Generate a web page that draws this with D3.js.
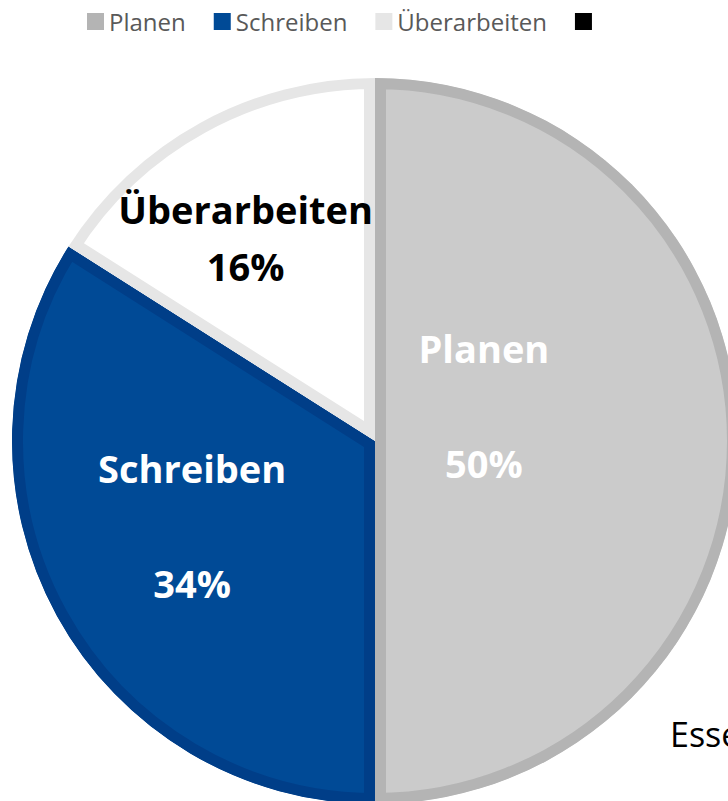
<!DOCTYPE html>
<html>
<head>
<meta charset="utf-8">
<script src="https://cdn.jsdelivr.net/npm/d3@7"></script>
<style>
  body { margin: 0; background: #fff; overflow: hidden; }
  svg { display: block; }
</style>
</head>
<body>
<div id="chart"></div>
<script>
// data
var categories = ["Planen", "Schreiben", "Überarbeiten"];
var values = [50, 34, 16];
var percentLabels = ["50%", "34%", "16%"];
var legendLabels = ["Planen", "Schreiben", "Überarbeiten", ""];
var extraText = "Essen";

var fills = ["#cbcbcb", "#004a96", "#ffffff"];
var borders = ["#b4b4b4", "#003e88", "#e6e6e6"];
var legendColors = ["#b4b4b4", "#004a96", "#e6e6e6", "#000000"];
var labelColors = ["#ffffff", "#ffffff", "#000000"];

var width = 728, height = 801;
var cx = 375, cy = 441, radius = 363;

var svg = d3.select("#chart")
  .append("svg")
  .attr("width", width)
  .attr("height", height);

var pie = d3.pie().sort(null).value(d => d);
var arc = d3.arc().innerRadius(0).outerRadius(radius);
var arcs = pie(values);

var g = svg.append("g")
  .attr("transform", "translate(" + cx + "," + cy + ")");

// clip each slice so the border sits inside it
var defs = svg.append("defs");
arcs.forEach((d, i) => {
  defs.append("clipPath")
    .attr("id", "clip" + i)
    .append("path")
    .attr("d", arc(d));
});

g.selectAll(".slice")
  .data(arcs)
  .enter().append("path")
  .attr("class", "slice")
  .attr("d", arc)
  .attr("clip-path", (d, i) => "url(#clip" + i + ")")
  .attr("fill", (d, i) => fills[i])
  .attr("stroke", (d, i) => borders[i])
  .attr("stroke-width", 22)
  .attr("stroke-linejoin", "miter");

// data labels (blank line between name and value for the big slices)
var labelRadius = [0.3, 0.575, 0.74];
var lineGap = [115, 115, 57];
var labelShift = [-34, -14, 34];
var lab = g.selectAll(".lab")
  .data(arcs)
  .enter().append("text")
  .attr("class", "lab")
  .attr("text-anchor", "middle")
  .style("font-family", "'Open Sans', sans-serif")
  .style("font-weight", "bold")
  .style("font-size", "38px")
  .attr("fill", (d, i) => labelColors[i])
  .attr("transform", (d, i) => {
    var r = radius * labelRadius[i];
    var a = (d.startAngle + d.endAngle) / 2;
    return "translate(" + (Math.sin(a) * r) + "," + (-Math.cos(a) * r + labelShift[i]) + ")";
  });
lab.append("tspan")
  .attr("x", 0)
  .attr("y", (d, i) => -lineGap[i] / 2 + 13)
  .text((d, i) => categories[i]);
lab.append("tspan")
  .attr("x", 0)
  .attr("y", (d, i) => lineGap[i] / 2 + 13)
  .text((d, i) => percentLabels[i]);

// legend
var legend = svg.append("g").attr("class", "legend");
var lx = 87;
legendLabels.forEach((name, i) => {
  var item = legend.append("g").attr("transform", "translate(" + lx + ",0)");
  item.append("rect")
    .attr("x", 0).attr("y", 13)
    .attr("width", 17).attr("height", 17)
    .attr("fill", legendColors[i]);
  var t = item.append("text")
    .attr("x", 22).attr("y", 31)
    .style("font-family", "'Open Sans', sans-serif")
    .style("font-size", "24px")
    .attr("fill", "#595959")
    .text(name);
  lx += 22 + t.node().getComputedTextLength() + 28;
});

// stray text in the lower right (cut off by the edge, as in the original)
svg.append("text")
  .attr("x", 670).attr("y", 747)
  .style("font-family", "'Open Sans', sans-serif")
  .style("font-size", "34px")
  .attr("fill", "#000")
  .text(extraText);
</script>
</body>
</html>
